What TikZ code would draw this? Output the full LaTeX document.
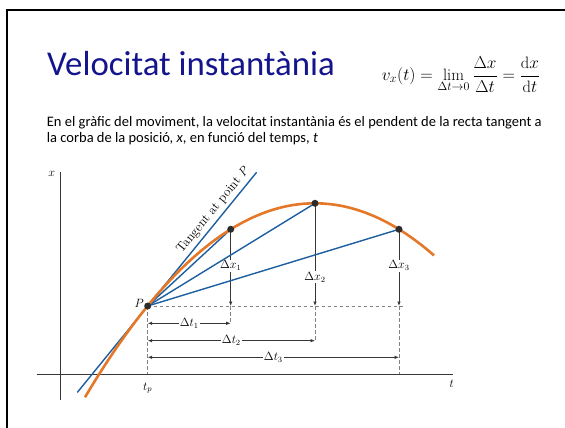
\documentclass[tikz,border=0pt]{standalone}
\usepackage{fontspec}
\newfontfamily\slidefont{Carlito}
\usetikzlibrary{arrows.meta}
\definecolor{titleblue}{RGB}{20,20,140}
\definecolor{curveorange}{RGB}{228,120,40}
\definecolor{lineblue}{RGB}{28,94,160}
\definecolor{axisgray}{RGB}{55,55,55}
\definecolor{dashgray}{RGB}{130,130,130}

\begin{document}
\begin{tikzpicture}[x=1pt, y=-1pt]
        \tikzstyle{curve} = [draw=curveorange, line width=2.6pt]
        \tikzstyle{secant} = [draw=lineblue, line width=1.4pt]
        \tikzstyle{axis} = [draw=axisgray, line width=0.9pt]
        \tikzstyle{guide} = [draw=dashgray, line width=0.8pt, dash pattern=on 3.5pt off 2.5pt]
        \tikzstyle{delta} = [draw=axisgray, line width=0.7pt, {Latex[length=4.5pt,width=3.5pt]}-{Latex[length=4.5pt,width=3.5pt]}]
        \tikzstyle{dot} = [circle, fill=axisgray!80!black, inner sep=0pt, minimum size=7pt]
        \tikzstyle{lbl} = [font=\fontsize{12}{14}\selectfont, inner sep=1pt]
        \tikzstyle{gap} = [lbl, fill=white]

        \useasboundingbox (0,0) rectangle (565,428);
        % slide frame and text
        \draw[line width=2.5pt] (565,10) -- (7,10) -- (7,428);
        \node[anchor=base west, inner sep=0pt, text=titleblue, font=\slidefont\fontsize{34.8}{38}\selectfont] (title) at (47,76) {Velocitat instantània};
        \node[inner sep=0pt, font=\fontsize{16.5}{20}\selectfont] (formula) at (461,74.5)
            {$\displaystyle v_x(t)=\lim_{\Delta t\to 0}\frac{\Delta x}{\Delta t}=\frac{\mathrm{d}x}{\mathrm{d}t}$};
        \node[anchor=base west, inner sep=0pt, font=\slidefont\fontsize{14.5}{16}\selectfont] (line1) at (46.7,126)
            {En el gràfic del moviment, la velocitat instantània és el pendent de la recta tangent a};
        \node[anchor=base west, inner sep=0pt, font=\slidefont\fontsize{14.5}{16}\selectfont] (line2) at (46.7,142)
            {la corba de la posició, \textit{x}, en funció del temps, \textit{t}};

        % points on the curve
        \coordinate (P) at (147.7,306);
        \coordinate (Q1) at (230.7,229.3);
        \coordinate (Q2) at (315,203.3);
        \coordinate (Q3) at (399,229.3);
        \coordinate (B1) at (230.7,306);
        \coordinate (B2) at (315,306);
        \coordinate (B3) at (399,306);
        \coordinate (Tstart) at (77.3,392.4);
        \coordinate (Tend) at (256.6,172.3);

        % guides
        \draw[guide] (P) -- (405,306);
        \draw[guide] (P) -- (147.7,374);
        \draw[guide] (B1) -- (230.7,323.3);
        \draw[guide] (B2) -- (315,340.7);
        \draw[guide] (B3) -- (399,374);

        % increments
        \path[delta] ([yshift=4pt]Q1) -- node[gap] {$\Delta x_1$} (B1);
        \path[delta] ([yshift=4pt]Q2) -- node[gap, pos=0.73] {$\Delta x_2$} (B2);
        \path[delta] ([yshift=4pt]Q3) -- node[gap] {$\Delta x_3$} (B3);
        \path[delta] (147.7,323.3) -- node[gap] {$\Delta t_1$} (230.7,323.3);
        \path[delta] (147.7,340.7) -- node[gap] {$\Delta t_2$} (315,340.7);
        \path[delta] (147.7,357.3) -- node[gap] {$\Delta t_3$} (399,357.3);

        % axes
        \draw[axis] (60.7,400) -- (60.7,171.7);
        \draw[axis] (36.7,374) -- (453.3,374);
        \node[lbl] (xlabel) at (51.7,173.5) {$x$};
        \node[lbl] (tlabel) at (451.7,383.5) {$t$};
        \node[lbl] (tp) at (147.7,388) {$t_p$};

        % tangent and secants
        \path[secant] (Tstart) -- node[sloped, above=2pt, pos=0.8, lbl, font=\fontsize{13}{15}\selectfont] {Tangent at point $P$} (Tend);
        \path[secant] (P) -- (Q1);
        \path[secant] (P) -- (Q2);
        \path[secant] (P) -- (Q3);

        % position curve
        \draw[curve] plot[domain=85:434, samples=80, smooth] (\x, {203.3+(0.0606*(\x-314.85))^2});

        \node[dot] (dotP) at (P) {};
        \node[dot] (dot1) at (Q1) {};
        \node[dot] (dot2) at (Q2) {};
        \node[dot] (dot3) at (Q3) {};
        \node[lbl, anchor=east] (plabel) at (145,303.5) {$P$};
    \end{tikzpicture}
\end{document}
